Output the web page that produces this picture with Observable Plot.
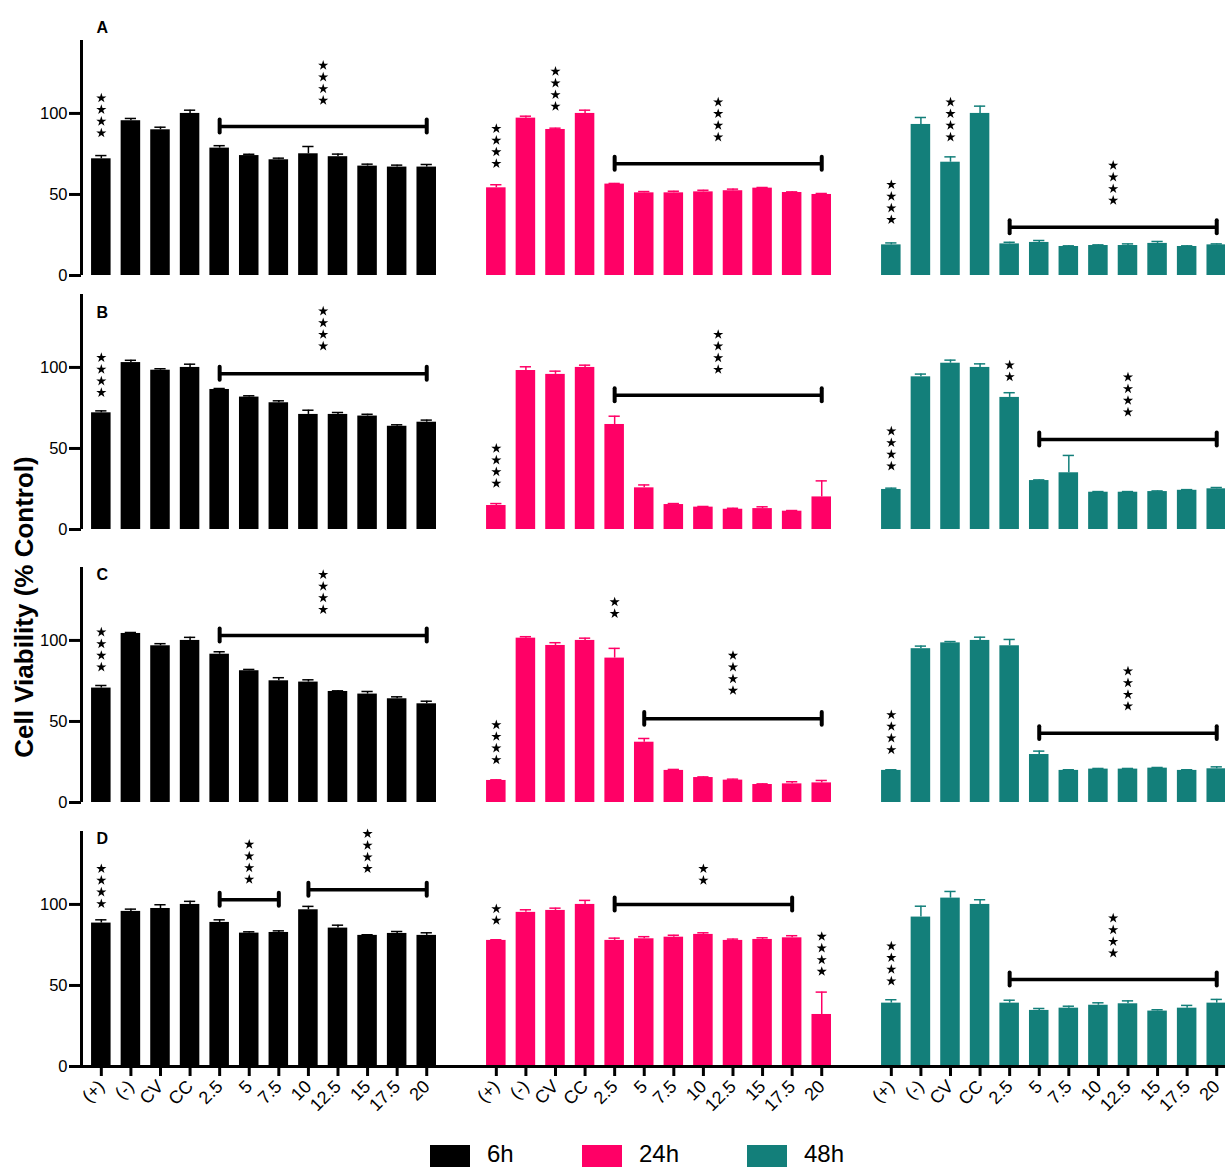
<!DOCTYPE html>
<html>
<head>
<meta charset="utf-8">
<script src="https://cdn.jsdelivr.net/npm/d3@7"></script>
<script src="https://cdn.jsdelivr.net/npm/@observablehq/plot@0.6"></script>
<style>
  html, body { margin: 0; padding: 0; background: #fff; overflow: hidden; }
  #fig { position: relative; width: 1225px; height: 1167px; font-family: "Liberation Sans", Arial, Helvetica, sans-serif; color: #000; }
  #fig svg { position: absolute; }
  .ytitle { position: absolute; width: 420px; text-align: center; font-weight: bold; font-size: 26px; line-height: 30px; transform: rotate(-90deg); transform-origin: 50% 50%; white-space: nowrap; }
  .key { position: absolute; display: flex; align-items: flex-start; font-size: 24px; line-height: 1; }
  .key span.sw { display: inline-block; width: 40px; height: 26px; margin-top: 3px; }
</style>
</head>
<body>
<div id="fig"></div>
<script>
// Treatments on the x axis of every panel
const categories = ["(+)", "(-)", "CV", "CC", "2.5", "5", "7.5", "10", "12.5", "15", "17.5", "20"];
const times = ["6h", "24h", "48h"];
const timeColors = ["#000000", "#ff0066", "#137f7a"];
const panelLetters = ["A", "B", "C", "D"];
const yTicks = [0, 50, 100];

// Cell viability (% control): mean and SD for each panel and exposure time
const meanA6h  = [72, 95.5, 89.9, 100, 78.6, 74, 71.4, 75.1, 73.3, 67.5, 66.9, 66.9];
const sdA6h    = [2, 1.4, 1.6, 2, 1.5, 0.8, 1, 4.5, 1.6, 1.2, 1.2, 1.6];
const meanA24h = [54.1, 97.1, 90.1, 100, 56.4, 51, 51, 51.6, 52.3, 53.9, 51.2, 50];
const sdA24h   = [1.9, 1.2, 0.8, 2, 0.4, 0.8, 1, 1, 1, 0.4, 0.4, 0.6];
const meanA48h = [18.9, 93.2, 69.9, 100, 19.5, 20.4, 17.9, 18.5, 18.5, 19.8, 17.9, 18.9];
const sdA48h   = [1.2, 4.3, 3.3, 4.5, 1, 1.2, 0.4, 0.4, 1, 1.2, 0.4, 0.6];

const meanB6h  = [72, 103, 98.3, 100, 86.4, 81.7, 78.2, 71, 71, 70, 63.7, 66.2];
const sdB6h    = [1.2, 1.4, 0.9, 2, 0.6, 0.8, 1.2, 2.6, 1.2, 1.1, 0.9, 1.3];
const meanB24h = [14.8, 98.1, 95.7, 100, 64.8, 25.7, 15.4, 13.8, 12.5, 12.9, 11.3, 20.1];
const sdB24h   = [1.2, 2.3, 2, 1.4, 5.1, 1.8, 0.6, 0.4, 0.6, 1.1, 0.4, 9.9];
const meanB48h = [24.7, 94.2, 102.6, 100, 81.5, 30.2, 35, 23, 23, 23.4, 24.2, 25.1];
const sdB48h   = [0.8, 1.7, 1.9, 2.2, 2.9, 0.4, 10.7, 0.4, 0.4, 0.4, 0.4, 0.8];

const meanC6h  = [70.6, 104.3, 96.7, 100, 91.5, 81.3, 75.1, 74.3, 68.5, 66.9, 64, 60.9];
const sdC6h    = [1.6, 0.6, 1.3, 1.9, 1.5, 0.8, 1.9, 1.4, 0.4, 1.6, 1.2, 1.6];
const meanC24h = [13.6, 101.4, 96.9, 100, 89.1, 37.2, 19.8, 15.4, 13.8, 11.1, 11.5, 12.1];
const sdC24h   = [0.4, 0.9, 1.7, 1.4, 6, 2.3, 0.6, 0.4, 0.6, 0.4, 1.3, 1.5];
const meanC48h = [19.8, 94.9, 98.5, 100, 96.7, 29.6, 19.8, 20.6, 20.6, 21.2, 19.8, 20.8];
const sdC48h   = [0.4, 1.6, 0.8, 2, 3.9, 2.1, 0.4, 0.4, 0.4, 0.4, 0.4, 1.2];

const meanD6h  = [88.5, 95.7, 97.5, 100, 88.9, 82.3, 82.7, 96.7, 85.4, 80.9, 82.1, 80.9];
const sdD6h    = [2, 1.4, 2.3, 1.9, 1.6, 0.8, 1, 2.1, 1.8, 0.4, 1.2, 1.6];
const meanD24h = [77.8, 95.1, 96.3, 100, 77.8, 78.8, 79.8, 81.5, 77.8, 78.4, 79.4, 32.1];
const sdD24h   = [0.4, 1.6, 1.4, 2.5, 1.4, 1.3, 1.2, 1, 0.8, 1, 1.3, 13.8];
const meanD48h = [39.1, 92.2, 103.9, 100, 39.1, 34.6, 36, 37.8, 38.7, 34.2, 36, 39.1];
const sdD48h   = [2.1, 6.7, 4.1, 2.9, 1.8, 1.2, 1.2, 1.5, 1.8, 0.8, 1.7, 2.3];

// Significance: a stack of stars over one bar (from === to) or over a bracket
// "at" is the value of the lowest star, "bracket" the value of the bracket line
const sigA = [
  {time: "6h",  from: "(+)", to: "(+)", stars: 4, at: 87.9},
  {time: "6h",  from: "2.5", to: "20",  stars: 4, at: 108, bracket: 92},
  {time: "24h", from: "(+)", to: "(+)", stars: 4, at: 69},
  {time: "24h", from: "CV",  to: "CV",  stars: 4, at: 104.3},
  {time: "24h", from: "2.5", to: "20",  stars: 4, at: 85.4, bracket: 69},
  {time: "48h", from: "(+)", to: "(+)", stars: 4, at: 34.4},
  {time: "48h", from: "CV",  to: "CV",  stars: 4, at: 85.4},
  {time: "48h", from: "2.5", to: "20",  stars: 4, at: 46.3, bracket: 29.8}
];
const sigB = [
  {time: "6h",  from: "(+)", to: "(+)", stars: 4, at: 84.4},
  {time: "6h",  from: "2.5", to: "20",  stars: 4, at: 113.1, bracket: 96.1},
  {time: "24h", from: "(+)", to: "(+)", stars: 4, at: 28.4},
  {time: "24h", from: "2.5", to: "20",  stars: 4, at: 98.7, bracket: 82.9},
  {time: "48h", from: "(+)", to: "(+)", stars: 4, at: 39.1},
  {time: "48h", from: "2.5", to: "2.5", stars: 2, at: 94.2},
  {time: "48h", from: "5",   to: "20",  stars: 4, at: 72.4, bracket: 55.5}
];
const sigC = [
  {time: "6h",  from: "(+)", to: "(+)", stars: 4, at: 83.5},
  {time: "6h",  from: "2.5", to: "20",  stars: 4, at: 119, bracket: 103.1},
  {time: "24h", from: "(+)", to: "(+)", stars: 4, at: 26.3},
  {time: "24h", from: "2.5", to: "2.5", stars: 2, at: 116.5},
  {time: "24h", from: "5",   to: "20",  stars: 4, at: 69.1, bracket: 51.6},
  {time: "48h", from: "(+)", to: "(+)", stars: 4, at: 32.5},
  {time: "48h", from: "5",   to: "20",  stars: 4, at: 59.4, bracket: 42.8}
];
const sigD = [
  {time: "6h",  from: "(+)", to: "(+)", stars: 4, at: 100.4},
  {time: "6h",  from: "2.5", to: "7.5", stars: 4, at: 115.4, bracket: 102.9},
  {time: "6h",  from: "10",  to: "20",  stars: 4, at: 122, bracket: 109.1},
  {time: "24h", from: "(+)", to: "(+)", stars: 2, at: 90.1},
  {time: "24h", from: "2.5", to: "17.5", stars: 2, at: 114.8, bracket: 100},
  {time: "24h", from: "20",  to: "20",  stars: 4, at: 58.6},
  {time: "48h", from: "(+)", to: "(+)", stars: 4, at: 52.7},
  {time: "48h", from: "2.5", to: "20",  stars: 4, at: 69.9, bracket: 53.7}
];

const series = {
  A: {"6h": [meanA6h, sdA6h], "24h": [meanA24h, sdA24h], "48h": [meanA48h, sdA48h]},
  B: {"6h": [meanB6h, sdB6h], "24h": [meanB24h, sdB24h], "48h": [meanB48h, sdB48h]},
  C: {"6h": [meanC6h, sdC6h], "24h": [meanC24h, sdC24h], "48h": [meanC48h, sdC48h]},
  D: {"6h": [meanD6h, sdD6h], "24h": [meanD24h, sdD24h], "48h": [meanD48h, sdD48h]}
};
const significance = {A: sigA, B: sigB, C: sigC, D: sigD};

// Layout of the 4 x 3 grid of panels
const colLeft = [81, 476, 871];       // left edge of each column's plotting frame
const frameWidth = 355;
const rowTop = [40, 294, 567, 831];   // top edge of each row's plotting frame
const frameHeight = 235;
const marginLeft = 81, marginTop = 40;
const xDomain = [-0.67, 11.33];       // bar index domain: bars sit at 0..11
const yDomain = [0, 145];
const halfBar = 0.33, halfCap = 0.19;
const starGap = 7.2;                  // vertical spacing of stacked stars, in % units
const letterOffset = [-13, 18, 7, 7];
const fontFamily = '"Liberation Sans", Arial, Helvetica, sans-serif';

const fig = document.getElementById("fig");
const index = (cat) => categories.indexOf(cat);

function panel(r, c) {
  const letter = panelLetters[r];
  const time = times[c];
  const color = timeColors[c];
  const [mean, sd] = series[letter][time];
  const rows = categories.map((cat, i) => ({cat, i, mean: mean[i], sd: sd[i]}));
  const sig = significance[letter].filter((d) => d.time === time);
  const brackets = sig.filter((d) => d.bracket != null)
    .map((d) => ({x1: index(d.from), x2: index(d.to), y: d.bracket}));
  const bracketEnds = brackets.flatMap((b) => [{x: b.x1, y: b.y}, {x: b.x2, y: b.y}]);
  const stars = sig.flatMap((d) => d3.range(d.stars).map((k) => ({
    x: (index(d.from) + index(d.to)) / 2,
    y: d.at + k * starGap
  })));
  const isBottom = r === panelLetters.length - 1;
  const marginBottom = isBottom ? 62 : 6;

  const marks = [
    Plot.rect(rows, {x1: (d) => d.i - halfBar, x2: (d) => d.i + halfBar, y1: 0, y2: "mean", fill: color}),
    Plot.ruleX(rows, {x: "i", y1: "mean", y2: (d) => d.mean + d.sd, stroke: color, strokeWidth: 1.5}),
    Plot.ruleY(rows, {y: (d) => d.mean + d.sd, x1: (d) => d.i - halfCap, x2: (d) => d.i + halfCap, stroke: color, strokeWidth: 1.5}),
    Plot.ruleY(brackets, {y: "y", x1: "x1", x2: "x2", strokeWidth: 3.5}),
    Plot.ruleX(bracketEnds, {x: "x", y1: (d) => d.y - 4, y2: (d) => d.y + 4, strokeWidth: 4, strokeLinecap: "round"}),
    Plot.dot(stars, {x: "x", y: "y", symbol: "star", r: 3.2, fill: "black", stroke: "none"})
  ];
  if (c === 0) {
    marks.push(
      Plot.ruleX([xDomain[0]], {y1: yDomain[0], y2: yDomain[1], strokeWidth: 3}),
      Plot.axisY({ticks: yTicks, tickSize: 12, tickPadding: 2, fontSize: 16.5, strokeWidth: 3, label: null}),
      Plot.text([letter], {frameAnchor: "top-left", dx: 15, dy: letterOffset[r], lineAnchor: "middle", textAnchor: "start", fontSize: 16, fontWeight: "bold"})
    );
  }
  if (isBottom) {
    marks.push(
      Plot.ruleY([0], {strokeWidth: 3, insetRight: c < 2 ? -40 : -10}),
      Plot.axisX({ticks: d3.range(categories.length), tickFormat: (i) => categories[i], tickRotate: -45,
                  tickSize: 10, tickPadding: 7, fontSize: 18, strokeWidth: 3, label: null})
    );
  }

  const svg = Plot.plot({
    width: marginLeft + frameWidth,
    height: marginTop + frameHeight + marginBottom,
    marginLeft, marginTop, marginRight: 0, marginBottom,
    style: {background: "transparent", overflow: "visible", fontFamily, color: "#000"},
    x: {type: "linear", domain: xDomain, axis: null},
    y: {domain: yDomain, axis: c === 0 ? undefined : null},
    marks
  });
  svg.style.left = `${colLeft[c] - marginLeft}px`;
  svg.style.top = `${rowTop[r] - marginTop}px`;
  fig.appendChild(svg);
}

panelLetters.forEach((_, r) => times.forEach((_, c) => panel(r, c)));

// Shared y-axis title
const title = document.createElement("div");
title.className = "ytitle";
title.textContent = "Cell Viability (% Control)";
title.style.left = `${24 - 210}px`;
title.style.top = `${607 - 15}px`;
fig.appendChild(title);

// Colour key for the exposure times
const keyLeft = [430, 582, 747];
times.forEach((t, k) => {
  const item = document.createElement("div");
  item.className = "key";
  item.style.left = `${keyLeft[k]}px`;
  item.style.top = "1142px";
  const sw = document.createElement("span");
  sw.className = "sw";
  sw.style.background = timeColors[k];
  const label = document.createElement("span");
  label.textContent = t;
  label.style.marginLeft = "17px";
  item.append(sw, label);
  fig.appendChild(item);
});
</script>
</body>
</html>
